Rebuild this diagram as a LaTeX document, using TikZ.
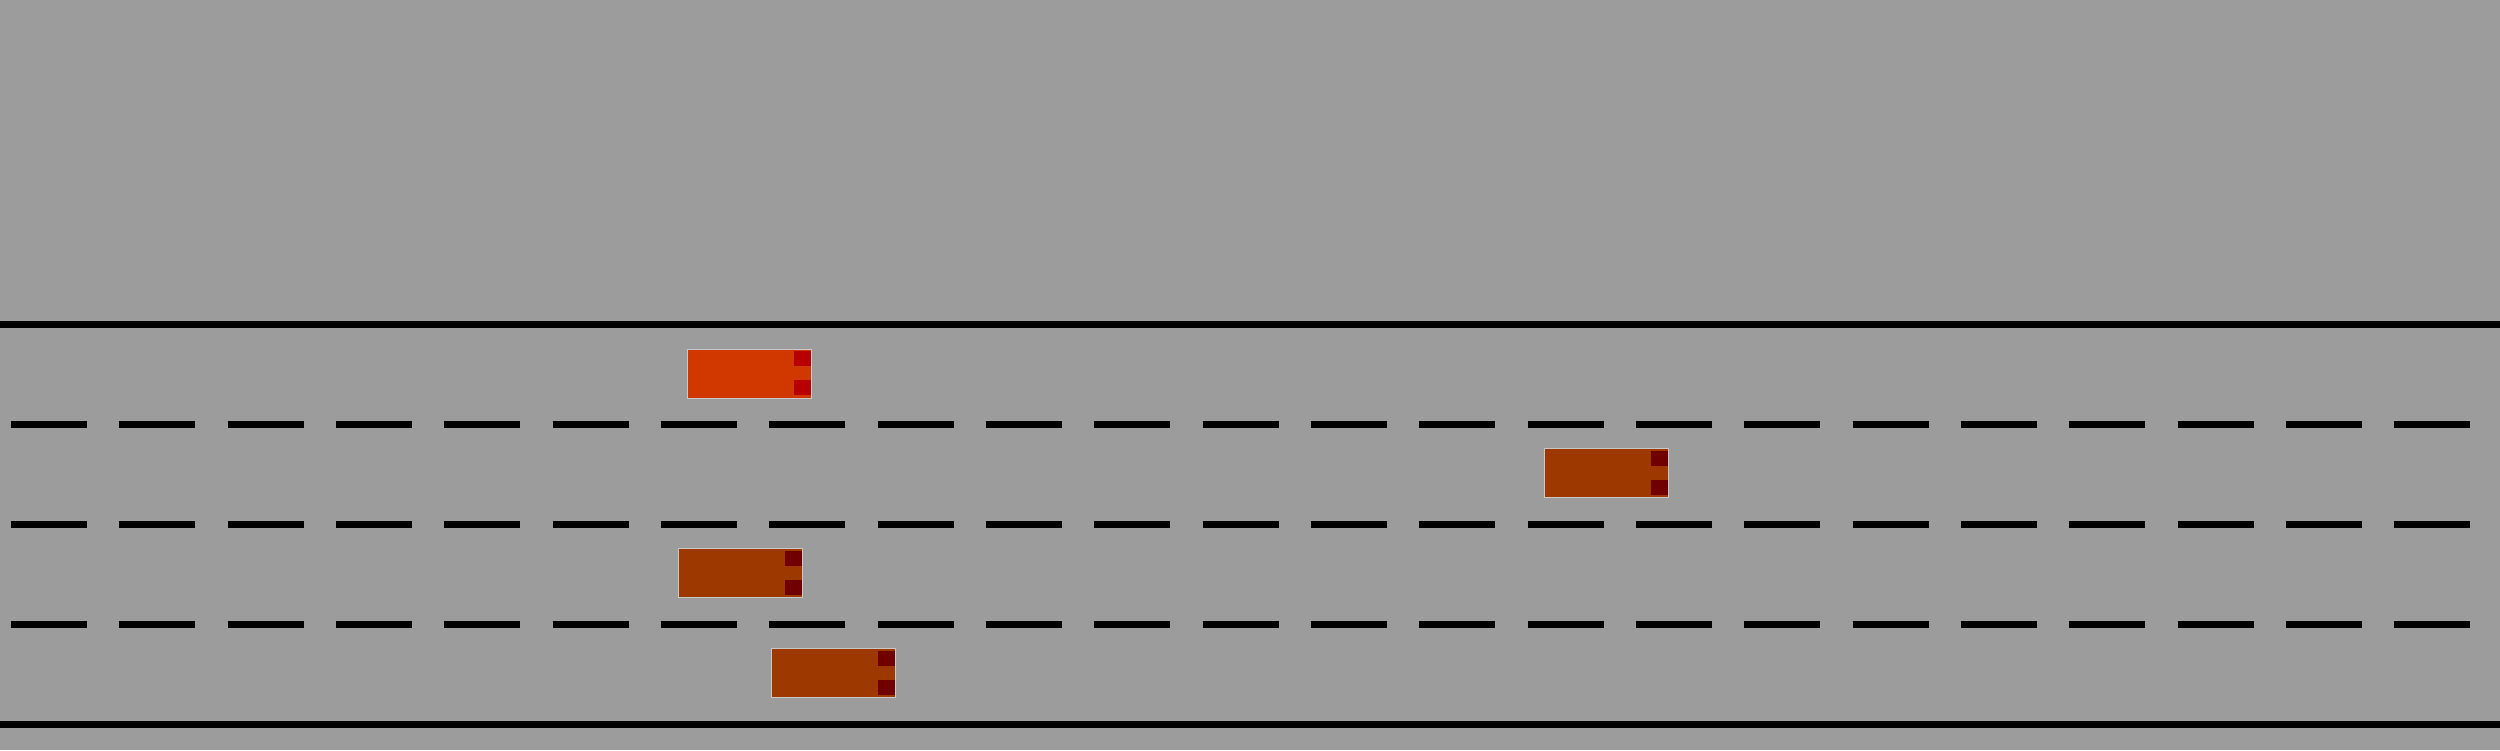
\documentclass[tikz,border=0pt]{standalone}
\usetikzlibrary{calc}
\definecolor{road}{RGB}{156,156,156}
\definecolor{egofill}{RGB}{208,56,0}
\definecolor{egolight}{RGB}{184,0,0}
\definecolor{carfill}{RGB}{156,56,0}
\definecolor{carlight}{RGB}{112,0,0}
\definecolor{carborder}{RGB}{200,200,200}
\tikzset{
  boundary/.style={line width=0.07cm, black},
  lanemark/.style={line width=0.07cm, black, dash pattern=on 0.76cm off 0.3227cm},
  car/.style={draw=carborder, line width=0.01cm, fill=carfill, minimum width=1.24cm, minimum height=0.49cm, inner sep=0pt, outer sep=0pt},
  egocar/.style={car, fill=egofill},
}
\newcommand{\carlights}[2]{%
  \fill[#2] ($(#1.east)+(-18,-22.5)$) rectangle ($(#1.east)+(-1,-7.5)$);
  \fill[#2] ($(#1.east)+(-18,6.5)$) rectangle ($(#1.east)+(-1,21.5)$);
}
\begin{document}
\begin{tikzpicture}[x=0.01cm,y=-0.01cm]
\fill[road] (0,0) rectangle (2500,750);
\useasboundingbox (0,0) rectangle (2500,750);
% road edges
\coordinate (tl) at (0,324.5); \coordinate (tr) at (2500,324.5);
\coordinate (bl) at (0,724.5); \coordinate (br) at (2500,724.5);
\draw[boundary] (tl) -- (tr);
\draw[boundary] (bl) -- (br);
% lane markings
\foreach \y/\n in {424.5/a,524.5/b,624.5/c}{
  \coordinate (m\n l) at (11,\y); \coordinate (m\n r) at (2490,\y);
  \draw[lanemark] (m\n l) -- (m\n r);
}
% cars
\node[egocar] (ego) at (749.5,373.7) {};
\carlights{ego}{egolight}
\node[car] (v1) at (1606.5,473) {};
\carlights{v1}{carlight}
\node[car] (v2) at (740.5,573) {};
\carlights{v2}{carlight}
\node[car] (v3) at (833.5,673) {};
\carlights{v3}{carlight}
\end{tikzpicture}
\end{document}
